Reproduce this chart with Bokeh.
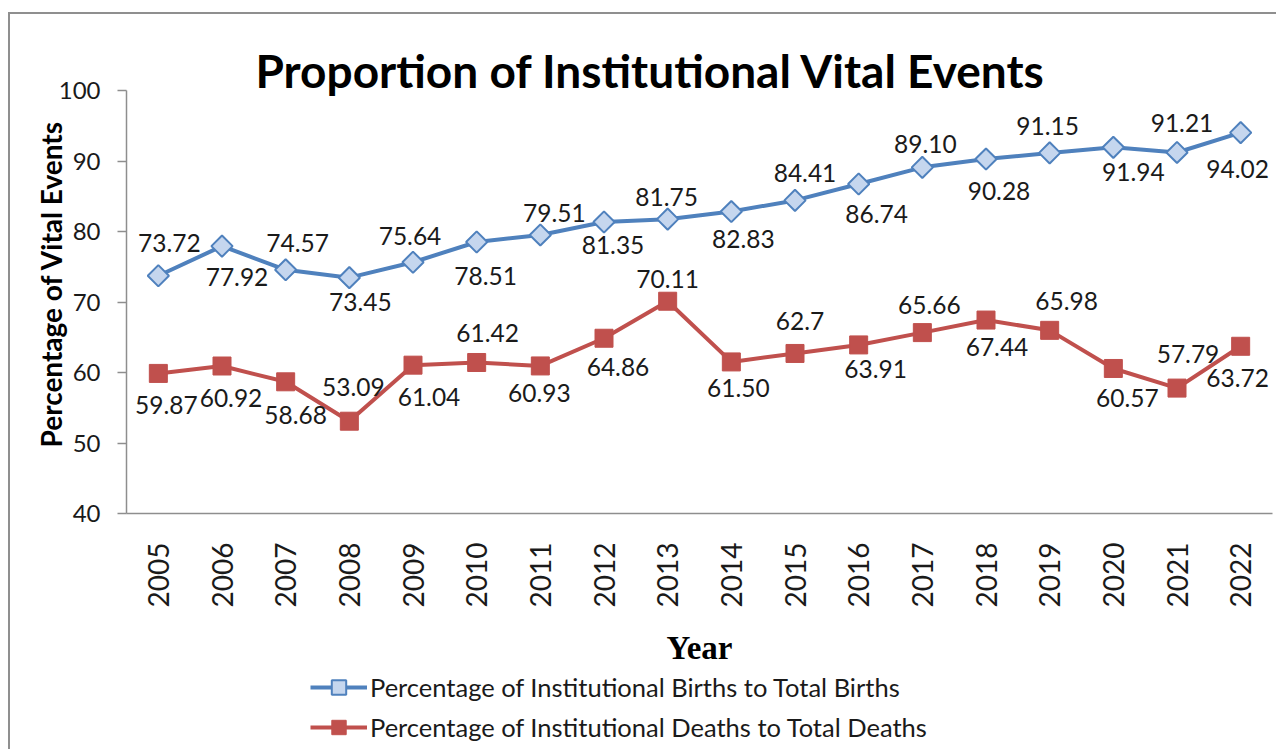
import math
from bokeh.plotting import figure
from bokeh.layouts import column
from bokeh.models import (ColumnDataSource, FactorRange, Range1d, FixedTicker,
                          Legend, LegendItem, Title)
from bokeh.core.properties import value
from bokeh.embed import file_html
from bokeh.resources import INLINE

# ---------------- data ----------------
years = ["2005", "2006", "2007", "2008", "2009", "2010", "2011", "2012", "2013",
         "2014", "2015", "2016", "2017", "2018", "2019", "2020", "2021", "2022"]
births = [73.72, 77.92, 74.57, 73.45, 75.64, 78.51, 79.51, 81.35, 81.75,
          82.83, 84.41, 86.74, 89.10, 90.28, 91.15, 91.94, 91.21, 94.02]
deaths = [59.87, 60.92, 58.68, 53.09, 61.04, 61.42, 60.93, 64.86, 70.11,
          61.50, 62.7, 63.91, 65.66, 67.44, 65.98, 60.57, 57.79, 63.72]
births_text = ["73.72", "77.92", "74.57", "73.45", "75.64", "78.51", "79.51", "81.35", "81.75",
               "82.83", "84.41", "86.74", "89.10", "90.28", "91.15", "91.94", "91.21", "94.02"]
deaths_text = ["59.87", "60.92", "58.68", "53.09", "61.04", "61.42", "60.93", "64.86", "70.11",
               "61.50", "62.7", "63.91", "65.66", "67.44", "65.98", "60.57", "57.79", "63.72"]
y_ticks = [40, 50, 60, 70, 80, 90, 100]

title_text = "Proportion of Institutional Vital Events"
y_label = "Percentage of  Vital Events"
x_label = "Year"
births_name = "Percentage of Institutional Births to Total Births"
deaths_name = "Percentage of Institutional Deaths to Total Deaths"

# label placement (screen px offsets, style only)
births_dx = [11, 15, 12, 11, -3, 9, 14, 9, -1, 12, 10, 18, 3, 13, -2, 20, 5, -3]
births_dy = [-33, 31, -27, 24, -26, 34, -22, 23, -22, 27, -27, 30, -23, 32, -27, 25, -29, 36]
deaths_dx = [8, 9, 10, 4, 16, 11, -1, 14, 0, 7, 5, 17, 7, 11, 17, 14, 11, -3]
deaths_dy = [32, 32, 33, -34, 32, -29, 27, 29, -22, 26, -32, 24, -28, 27, -29, 30, -34, 32]

BLUE = "#4F81BD"
BLUE_FILL = "#C5D6EE"
RED = "#C0504D"
AXIS = "#8E8E8E"
TXT = "#1a1a1a"
FONT = "Lato"

src_b = ColumnDataSource(dict(x=years, y=births, t=births_text, dx=births_dx, dy=births_dy))
src_d = ColumnDataSource(dict(x=years, y=deaths, t=deaths_text, dx=deaths_dx, dy=deaths_dy))

p = figure(x_range=FactorRange(*years), y_range=Range1d(40, 100),
           width=1266, height=655, output_backend="svg", toolbar_location=None,
           min_border_left=116, min_border_top=76, min_border_right=4, min_border_bottom=156)
p.xgrid.visible = False
p.ygrid.visible = False
p.outline_line_color = None
p.background_fill_color = "white"
p.border_fill_color = "white"

# title
p.title.text = title_text
p.title.align = "left"
p.title.offset = 129
p.title.standoff = -14
p.title.text_font = FONT
p.title.text_font_style = "bold"
p.title.text_font_size = "46px"
p.title.text_color = "black"

# y axis
ya = p.yaxis[0]
ya.ticker = FixedTicker(ticks=y_ticks)
ya.axis_line_color = AXIS
ya.axis_line_width = 1.5
ya.major_tick_line_color = AXIS
ya.major_tick_line_width = 1.5
ya.major_tick_out = 9
ya.major_tick_in = 0
ya.minor_tick_out = 0
ya.minor_tick_in = 0
ya.major_label_standoff = 17
ya.major_label_text_font = FONT
ya.major_label_text_font_size = "24px"
ya.major_label_text_color = TXT

# y axis title as a left-side title (placed along the axis)
p.add_layout(Title(text=y_label, align="left", offset=66, standoff=-25,
                   text_font=FONT, text_font_style="bold", text_font_size="28px",
                   text_color="black"), "left")

# x axis
xa = p.xaxis[0]
xa.axis_line_color = AXIS
xa.axis_line_width = 1.5
xa.major_tick_out = 0
xa.major_tick_in = 0
xa.minor_tick_out = 0
xa.minor_tick_in = 0
xa.major_label_orientation = math.pi / 2
xa.major_label_standoff = 29
xa.major_label_text_font = FONT
xa.major_label_text_font_size = "28px"
xa.major_label_text_color = TXT
xa.axis_label = x_label
xa.axis_label_text_font = "Liberation Serif"
xa.axis_label_text_font_style = "bold"
xa.axis_label_text_font_size = "33px"
xa.axis_label_text_color = "black"
xa.axis_label_standoff = 20

# series
p.line("x", "y", source=src_b, line_color=BLUE, line_width=4)
p.scatter("x", "y", source=src_b, marker="square", angle=math.pi / 4, size=15,
          fill_color=BLUE_FILL, line_color=BLUE, line_width=2)
p.line("x", "y", source=src_d, line_color=RED, line_width=4)
p.scatter("x", "y", source=src_d, marker="square", size=18,
          fill_color=RED, line_color=RED, line_width=1)

for src in (src_b, src_d):
    p.text("x", "y", text="t", source=src, x_offset="dx", y_offset="dy",
           text_align="center", text_baseline="middle",
           text_font=value(FONT), text_font_size="24.5px", text_color=TXT)

# ---------------- legend strip below the chart ----------------
q = figure(x_range=FactorRange(*years), y_range=Range1d(0, 1),
           width=1266, height=80, output_backend="svg", toolbar_location=None,
           x_axis_type=None, y_axis_type=None, min_border=0)
q.xgrid.visible = False
q.ygrid.visible = False
q.outline_line_color = None
q.background_fill_color = "white"
q.border_fill_color = "white"
# legend proxies share the series' styles (data lie outside this strip's view)
qlb = q.line("x", "y", source=src_b, line_color=BLUE, line_width=4)
qmb = q.scatter("x", "y", source=src_b, marker="square", angle=math.pi / 4, size=15,
                fill_color=BLUE_FILL, line_color=BLUE, line_width=2)
qld = q.line("x", "y", source=src_d, line_color=RED, line_width=4)
qmd = q.scatter("x", "y", source=src_d, marker="square", size=18,
                fill_color=RED, line_color=RED, line_width=1)

legend = Legend(items=[LegendItem(label=births_name, renderers=[qlb, qmb]),
                       LegendItem(label=deaths_name, renderers=[qld, qmd])],
                location=(184, 4), orientation="vertical",
                label_text_font=FONT, label_text_font_size="25.5px", label_text_color=TXT,
                glyph_width=57, glyph_height=36, label_height=36, spacing=4,
                padding=0, margin=0, label_standoff=3,
                border_line_color=None, background_fill_alpha=0)
q.add_layout(legend, "center")

layout = column(p, q, spacing=0)
layout.margin = (12, 0, 0, 8)
layout.styles = {"border-left": "2px solid #8f8f8f", "border-top": "2px solid #8f8f8f"}

open("out.html", "w").write(file_html(layout, INLINE))
